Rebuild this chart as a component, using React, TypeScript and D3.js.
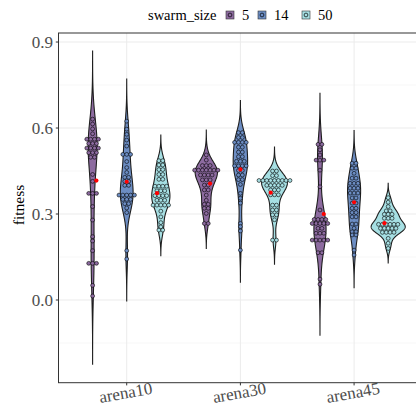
import React from "react";
import * as d3 from "d3";

const categories = ["arena10", "arena30", "arena45"];
const swarmSizes = ["5", "14", "50"];
const fillColors = ["#8d6ba0", "#6c8dc3", "#a6dfe3"];
const yTicks = [0.0, 0.3, 0.6, 0.9];
const yMinorTicks = [-0.15, 0.15, 0.45, 0.75];

const a10_s5 = [0.631, 0.614, 0.597, 0.58, 0.561, 0.561, 0.561, 0.561, 0.546, 0.546, 0.546, 0.53, 0.53, 0.53, 0.53, 0.514, 0.514, 0.514, 0.498, 0.498, 0.438, 0.414, 0.372, 0.372, 0.372, 0.326, 0.279, 0.221, 0.206, 0.172, 0.128, 0.128, 0.128, 0.051, 0.014];
const a10_s14 = [0.624, 0.596, 0.578, 0.558, 0.537, 0.508, 0.508, 0.508, 0.483, 0.462, 0.445, 0.428, 0.428, 0.414, 0.414, 0.4, 0.4, 0.366, 0.366, 0.366, 0.366, 0.366, 0.351, 0.351, 0.351, 0.336, 0.336, 0.321, 0.305, 0.172, 0.143];
const a10_s50 = [0.486, 0.486, 0.471, 0.471, 0.455, 0.455, 0.438, 0.438, 0.421, 0.421, 0.397, 0.397, 0.397, 0.397, 0.381, 0.381, 0.381, 0.364, 0.364, 0.364, 0.364, 0.348, 0.348, 0.348, 0.331, 0.331, 0.331, 0.331, 0.331, 0.31, 0.29, 0.27, 0.255, 0.244, 0.244];
const a30_s5 = [0.506, 0.488, 0.469, 0.469, 0.469, 0.453, 0.453, 0.453, 0.453, 0.453, 0.453, 0.453, 0.436, 0.436, 0.436, 0.436, 0.419, 0.419, 0.419, 0.401, 0.401, 0.384, 0.384, 0.366, 0.348, 0.334, 0.334, 0.32, 0.32, 0.302, 0.267, 0.267];
const a30_s14 = [0.584, 0.584, 0.567, 0.567, 0.55, 0.55, 0.55, 0.55, 0.533, 0.533, 0.516, 0.516, 0.5, 0.5, 0.484, 0.484, 0.484, 0.468, 0.468, 0.468, 0.468, 0.452, 0.452, 0.436, 0.436, 0.42, 0.42, 0.403, 0.372, 0.355, 0.338, 0.267, 0.256, 0.241, 0.174];
const a30_s50 = [0.45, 0.45, 0.434, 0.434, 0.417, 0.417, 0.417, 0.417, 0.417, 0.417, 0.417, 0.417, 0.417, 0.4, 0.4, 0.4, 0.4, 0.4, 0.384, 0.384, 0.384, 0.367, 0.367, 0.367, 0.331, 0.331, 0.314, 0.314, 0.297, 0.297, 0.28, 0.209, 0.209];
const a45_s5 = [0.543, 0.543, 0.524, 0.506, 0.488, 0.488, 0.488, 0.453, 0.395, 0.314, 0.281, 0.281, 0.281, 0.281, 0.267, 0.267, 0.267, 0.267, 0.267, 0.25, 0.25, 0.233, 0.233, 0.233, 0.209, 0.209, 0.209, 0.209, 0.209, 0.165, 0.165, 0.073, 0.055];
const a45_s14 = [0.477, 0.477, 0.46, 0.46, 0.442, 0.425, 0.425, 0.407, 0.407, 0.407, 0.39, 0.39, 0.39, 0.373, 0.373, 0.373, 0.356, 0.356, 0.338, 0.338, 0.32, 0.32, 0.305, 0.305, 0.29, 0.29, 0.265, 0.265, 0.25, 0.238, 0.238, 0.227, 0.227, 0.174, 0.157];
const a45_s50 = [0.357, 0.341, 0.326, 0.311, 0.311, 0.299, 0.299, 0.299, 0.285, 0.285, 0.285, 0.264, 0.264, 0.264, 0.264, 0.264, 0.264, 0.25, 0.25, 0.25, 0.25, 0.25, 0.236, 0.236, 0.236, 0.236, 0.215, 0.198, 0.18];

const groups = [
  { cat: 0, g: 0, values: a10_s5 },
  { cat: 0, g: 1, values: a10_s14 },
  { cat: 0, g: 2, values: a10_s50 },
  { cat: 1, g: 0, values: a30_s5 },
  { cat: 1, g: 1, values: a30_s14 },
  { cat: 1, g: 2, values: a30_s50 },
  { cat: 2, g: 0, values: a45_s5 },
  { cat: 2, g: 1, values: a45_s14 },
  { cat: 2, g: 2, values: a45_s50 },
];

const W = 416;
const H = 406;
const FONT = "'Liberation Serif', 'Times New Roman', serif";
const x = d3.scaleLinear().domain([0.4, 3.6]).range([58.5, 422.3]);
const y = d3.scaleLinear().domain([-0.2885, 0.9315]).range([382.7, 33]);
const binwidth = 0.0135;

function bwNrd0(v: number[]) {
  const s = d3.deviation(v) as number;
  const sorted = v.slice().sort(d3.ascending);
  const iqr = (d3.quantileSorted(sorted, 0.75) as number) - (d3.quantileSorted(sorted, 0.25) as number);
  let lo = Math.min(s, iqr / 1.34);
  if (!lo) lo = s || Math.abs(sorted[0]) || 1;
  return 0.9 * lo * Math.pow(v.length, -0.2);
}

function kde(v: number[]) {
  const bw = bwNrd0(v);
  const lo = (d3.min(v) as number) - 3 * bw;
  const hi = (d3.max(v) as number) + 3 * bw;
  const n = 512;
  const out: { t: number; d: number }[] = [];
  const c = 1 / (v.length * bw * Math.sqrt(2 * Math.PI));
  for (let i = 0; i < n; i++) {
    const t = lo + (i * (hi - lo)) / (n - 1);
    let s = 0;
    for (const xi of v) {
      const z = (t - xi) / bw;
      s += Math.exp(-0.5 * z * z);
    }
    out.push({ t, d: s * c });
  }
  return out;
}

const densities = groups.map((gr) => kde(gr.values));
const maxDens = d3.max(densities, (ds) => d3.max(ds, (p) => p.d)) as number;

export default function App() {
  const dotR = Math.abs(y(0) - y(binwidth)) / 2;
  const line = d3.line<[number, number]>().x((p) => p[0]).y((p) => p[1]);
  const txt = { fontFamily: FONT };

  return (
    <svg width={W} height={H} style={{ display: "block", position: "absolute", left: 0, top: 0, fontFamily: FONT }}>
      <rect x={0} y={0} width={W} height={H} fill="#fff" />
      {yMinorTicks.map((t) => (
        <line key={"mn" + t} x1={x(0.4)} x2={x(3.6)} y1={y(t)} y2={y(t)} stroke="#f2f2f2" strokeWidth={0.6} />
      ))}
      {yTicks.map((t) => (
        <line key={"mj" + t} x1={x(0.4)} x2={x(3.6)} y1={y(t)} y2={y(t)} stroke="#ebebeb" strokeWidth={1} />
      ))}
      {categories.map((c, i) => (
        <line key={"vx" + c} x1={x(i + 1)} x2={x(i + 1)} y1={y(-0.2885)} y2={y(0.9315)} stroke="#ebebeb" strokeWidth={1} />
      ))}
      {groups.map((gr, k) => {
        const cx = gr.cat + 1 + (gr.g - 1) * 0.3;
        const ds = densities[k];
        const left: [number, number][] = ds.map((p) => [x(cx - 0.15 * (p.d / maxDens)), y(p.t)]);
        const right: [number, number][] = ds.slice().reverse().map((p) => [x(cx + 0.15 * (p.d / maxDens)), y(p.t)]);
        return (
          <path key={"v" + k} d={(line([...left, ...right]) as string) + "Z"} fill={fillColors[gr.g]} stroke="#1e1e1e" strokeWidth={1.1} />
        );
      })}
      {groups.map((gr, k) => {
        const cx = x(gr.cat + 1 + (gr.g - 1) * 0.3);
        const bins = d3.rollups(gr.values, (v) => v.length, (v) => v);
        return (
          <g key={"d" + k}>
            {bins.flatMap(([val, n]) =>
              d3.range(n).map((i) => (
                <circle key={val + "_" + i} cx={cx + (i - (n - 1) / 2) * 2 * dotR} cy={y(val)} r={dotR} fill={fillColors[gr.g]} stroke="#000" strokeWidth={0.6} />
              ))
            )}
          </g>
        );
      })}
      {groups.map((gr, k) => (
        <circle key={"m" + k} cx={x(gr.cat + 1 + ((gr.g - 1) * 0.8) / 3)} cy={y(d3.mean(gr.values) as number)} r={2.1} fill="#ff0000" />
      ))}
      <rect x={x(0.4)} y={y(0.9315)} width={x(3.6) - x(0.4)} height={y(-0.2885) - y(0.9315)} fill="none" stroke="#333" strokeWidth={1} />
      {yTicks.map((t) => (
        <g key={"yt" + t}>
          <line x1={x(0.4) - 2.7} x2={x(0.4)} y1={y(t)} y2={y(t)} stroke="#333" strokeWidth={1} />
          <text x={53} y={y(t)} dy="0.35em" textAnchor="end" fontSize={17} fill="#4d4d4d" style={txt}>
            {d3.format(".1f")(t)}
          </text>
        </g>
      ))}
      {categories.map((c, i) => (
        <g key={"xt" + c}>
          <line x1={x(i + 1)} x2={x(i + 1)} y1={y(-0.2885)} y2={y(-0.2885) + 2.7} stroke="#333" strokeWidth={1} />
          <text transform={`translate(${x(i + 1)},398.3) rotate(-10)`} textAnchor="middle" fontSize={17} fill="#4d4d4d" style={txt}>
            {c}
          </text>
        </g>
      ))}
      <text transform="translate(24,205) rotate(-90)" textAnchor="middle" fontSize={15.5} fill="#000" style={txt}>
        fitness
      </text>
      <text x={148} y={20} fontSize={14.5} fill="#000" style={txt}>swarm_size</text>
      {swarmSizes.map((s, i) => {
        const kx = [226, 258, 302][i];
        return (
          <g key={"lg" + s}>
            <rect x={kx} y={11} width={8} height={8} fill={fillColors[i]} stroke="#333" strokeWidth={0.6} />
            <circle cx={kx + 4} cy={15} r={1.9} fill={fillColors[i]} stroke="#000" strokeWidth={0.7} />
            <text x={kx + 16} y={20} fontSize={14.5} fill="#000" style={txt}>{s}</text>
          </g>
        );
      })}
    </svg>
  );
}
